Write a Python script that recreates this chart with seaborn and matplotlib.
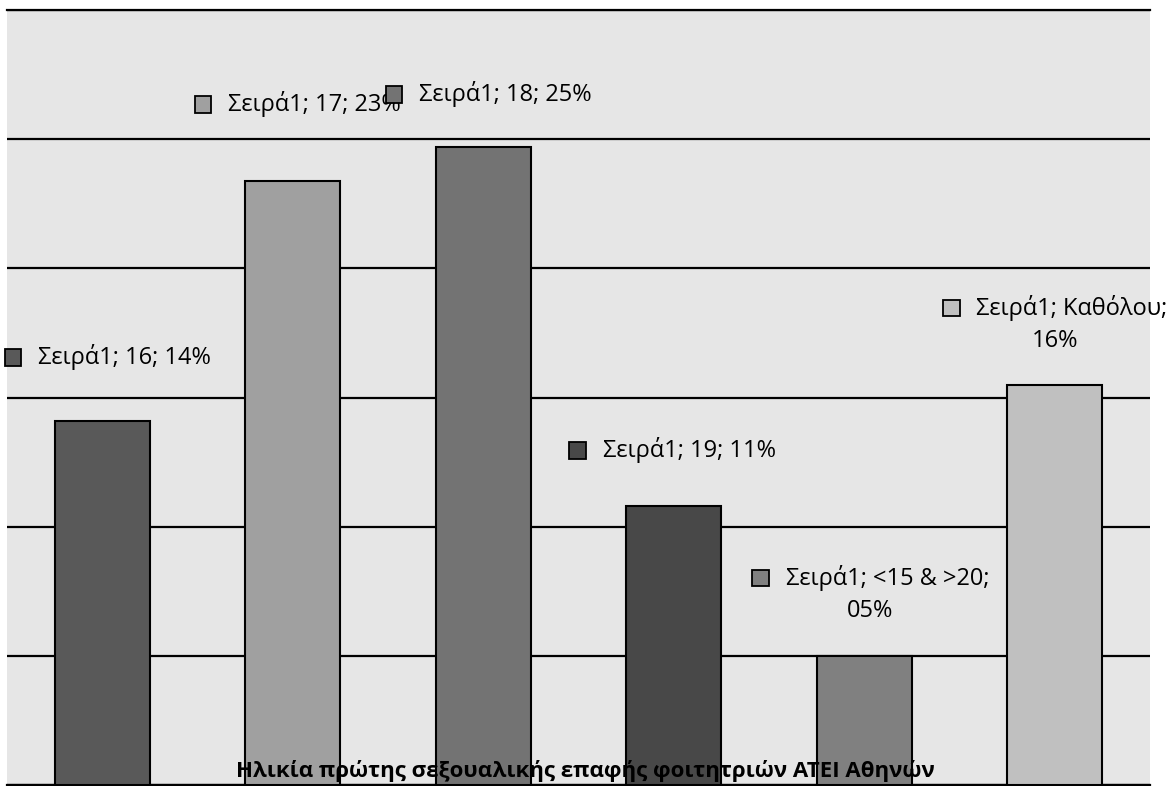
import matplotlib
matplotlib.use("Agg")
import matplotlib.pyplot as plt
import seaborn as sns
import pandas as pd
from matplotlib.offsetbox import AnnotationBbox, HPacker, VPacker, TextArea, DrawingArea
from matplotlib.patches import Rectangle

# ---- data ----
categories = ["16", "17", "18", "19", "<15 & >20", "Καθόλου"]
values = [14.1, 23.4, 24.7, 10.8, 5.0, 15.5]
pct_labels = ["14%", "23%", "25%", "11%", "05%", "16%"]
series_name = "Σειρά1"
title = "Ηλικία πρώτης σεξουαλικής επαφής φοιτητριών ΑΤΕΙ Αθηνών"

# ---- style ----
bar_colors = ["#595959", "#a0a0a0", "#737373", "#484848", "#808080", "#c0c0c0"]
# label anchor positions (data coords) and whether the label wraps
label_pos = [(0.025, 16.56), (1.022, 26.35), (2.025, 26.74),
             (2.99, 12.96), (4.03, 7.39), (5.0, 17.84)]
label_wrap = [False, False, False, False, True, True]

sns.set_style("white")
FONT = ["Open Sans", "DejaVu Sans"]
plt.rcParams["font.family"] = FONT
plt.rcParams["text.color"] = "black"

fig = plt.figure(figsize=(11.73, 7.86), dpi=100)
ax = fig.add_axes([7 / 1173, 1 / 786, 1143 / 1173, 775 / 786])
ax.set_facecolor("#e6e6e6")

df = pd.DataFrame({"cat": categories, "val": values})
sns.barplot(data=df, x="cat", y="val", hue="cat", palette=bar_colors,
            legend=False, width=0.5, ax=ax, edgecolor="black", linewidth=1.5,
            zorder=3)

ax.set_ylim(0, 30)
ax.set_xlim(-0.5, len(categories) - 0.5)
ax.set_yticks(range(0, 31, 5))
ax.yaxis.grid(True, color="black", linewidth=1.6)
ax.set_axisbelow(True)
ax.tick_params(left=False, labelleft=False, bottom=False, labelbottom=False)
ax.set_xlabel("")
ax.set_ylabel("")
for s in ["left", "right"]:
    ax.spines[s].set_visible(False)
for s in ["top", "bottom"]:
    ax.spines[s].set_visible(True)
    ax.spines[s].set_color("black")
    ax.spines[s].set_linewidth(1.6)

FS = 17
for i, (cat, pct) in enumerate(zip(categories, pct_labels)):
    da = DrawingArea(14, 14, 0, 0)
    da.add_artist(Rectangle((1, 1), 12, 12, facecolor=bar_colors[i],
                            edgecolor="black", linewidth=1.3))
    tprops = dict(fontsize=FS, color="black", family=FONT)
    if label_wrap[i]:
        line1 = TextArea(f"{series_name}; {cat};", textprops=tprops)
        row = HPacker(children=[da, line1], align="center", pad=0, sep=11)
        line2 = TextArea(pct, textprops=tprops)
        box = VPacker(children=[row, line2], align="center", pad=0, sep=6)
    else:
        txt = TextArea(f"{series_name}; {cat}; {pct}", textprops=tprops)
        box = HPacker(children=[da, txt], align="center", pad=0, sep=11)
    ab = AnnotationBbox(box, label_pos[i], xycoords="data", frameon=False,
                        box_alignment=(0.5, 0.5), zorder=5)
    ax.add_artist(ab)

fig.text(585 / 1173, 1 - 771 / 786, title, ha="center", va="center",
         fontsize=16, fontweight="bold", family=FONT, color="black", zorder=10)

fig.savefig("out.png", dpi=100, facecolor="white")
